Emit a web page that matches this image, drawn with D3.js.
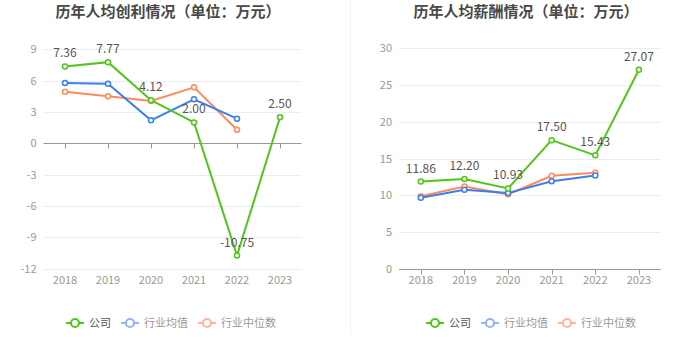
<!DOCTYPE html>
<html>
<head>
<meta charset="utf-8">
<script src="https://cdn.jsdelivr.net/npm/d3@7"></script>
<style>
  body { margin: 0; background: #fff; }
  svg { display: block; font-family: "Noto Sans CJK SC", "Noto Sans", sans-serif; }
</style>
</head>
<body>
<svg id="chart" width="700" height="359"></svg>
<script>
// years on both charts
var years = ["2018", "2019", "2020", "2021", "2022", "2023"];
var seriesNames = ["公司", "行业均值", "行业中位数"];

// 历年人均创利
var profitCompany = [7.36, 7.77, 4.12, 2.00, -10.75, 2.50];
var profitAvg = [5.78, 5.71, 2.2, 4.21, 2.36, null];
var profitMedian = [4.94, 4.5, 4.05, 5.36, 1.3, null];
var profitTicks = [9, 6, 3, 0, -3, -6, -9, -12];

// 历年人均薪酬
var salaryCompany = [11.86, 12.20, 10.93, 17.50, 15.43, 27.07];
var salaryAvg = [9.66, 10.75, 10.3, 11.89, 12.7, null];
var salaryMedian = [9.85, 11.2, 10.12, 12.65, 13.06, null];
var salaryTicks = [30, 25, 20, 15, 10, 5, 0];

var colors = ["#52c41a", "#3e7cf0", "#ff8a5e"];
var legendColors = ["#52c41a", "#91b3f7", "#fdb49b"];
var legendText = ["#555", "#999", "#999"];

var svg = d3.select("#chart");

// divider between the two panels
svg.append("line")
    .attr("x1", 350.5).attr("x2", 350.5)
    .attr("y1", 0).attr("y2", 334)
    .attr("stroke", "#f0f0f0");

function draw(cfg) {
    var g = svg.append("g");
    var x = d3.scalePoint().domain(years).range(cfg.xr).padding(0.5);
    var y = d3.scaleLinear().domain(cfg.dom).range(cfg.yr);

    g.append("text")
        .attr("x", cfg.titleX).attr("y", 17)
        .attr("text-anchor", "middle")
        .attr("font-size", 15).attr("font-weight", "bold")
        .attr("fill", "#484848")
        .text(cfg.title);

    // grid
    g.selectAll(".grid").data(cfg.ticks.filter(function (t) { return t !== 0; }))
        .enter().append("line")
        .attr("x1", cfg.xr[0]).attr("x2", cfg.xr[1])
        .attr("y1", function (d) { return Math.round(y(d)) + 0.5; })
        .attr("y2", function (d) { return Math.round(y(d)) + 0.5; })
        .attr("stroke", "#e9eef6");

    // y labels
    g.selectAll(".ylab").data(cfg.ticks)
        .enter().append("text")
        .attr("x", cfg.xr[0] - 7)
        .attr("y", function (d) { return y(d) + 4; })
        .attr("text-anchor", "end")
        .attr("font-size", 11).attr("fill", "#999")
        .text(function (d) { return d; });

    // x axis on zero line
    var y0 = Math.round(y(0)) + 0.5;
    g.append("line")
        .attr("x1", cfg.xr[0]).attr("x2", cfg.xr[1])
        .attr("y1", y0).attr("y2", y0)
        .attr("stroke", "#999");
    g.selectAll(".tick").data(years).enter().append("line")
        .attr("x1", function (d) { return Math.round(x(d)) + 0.5; })
        .attr("x2", function (d) { return Math.round(x(d)) + 0.5; })
        .attr("y1", y0).attr("y2", y0 + 5)
        .attr("stroke", "#999");
    g.selectAll(".xlab").data(years).enter().append("text")
        .attr("x", function (d) { return x(d); })
        .attr("y", cfg.yr[0] + 15)
        .attr("text-anchor", "middle")
        .attr("font-size", 11).attr("fill", "#999")
        .text(function (d) { return d; });

    var line = d3.line()
        .defined(function (d) { return d != null; })
        .x(function (d, i) { return x(years[i]); })
        .y(function (d) { return y(d); });

    // draw median, avg, then company on top
    [2, 1, 0].forEach(function (k) {
        var vals = cfg.series[k];
        g.append("path").datum(vals)
            .attr("d", line)
            .attr("fill", "none")
            .attr("stroke", colors[k])
            .attr("stroke-width", 2);
        g.selectAll(".pt" + k).data(vals.map(function (v, i) { return {v: v, i: i}; })
                .filter(function (d) { return d.v != null; }))
            .enter().append("circle")
            .attr("cx", function (d) { return x(years[d.i]); })
            .attr("cy", function (d) { return y(d.v); })
            .attr("r", 2.5)
            .attr("fill", "#fff")
            .attr("stroke", colors[k])
            .attr("stroke-width", 1.5);
    });

    g.selectAll(".lab").data(cfg.series[0]).enter().append("text")
        .attr("x", function (d, i) { return x(years[i]); })
        .attr("y", function (d) { return y(d) - 9; })
        .attr("text-anchor", "middle")
        .attr("font-size", 12).attr("fill", "#555")
        .text(function (d) { return d.toFixed(2); });

    // legend
    var lg = g.append("g");
    var pos = 0;
    seriesNames.forEach(function (name, k) {
        var it = lg.append("g").attr("transform", "translate(" + pos + ",0)");
        it.append("line").attr("x1", 0).attr("x2", 18).attr("y1", 0).attr("y2", 0)
            .attr("stroke", legendColors[k]).attr("stroke-width", 2);
        it.append("circle").attr("cx", 9).attr("cy", 0).attr("r", 4)
            .attr("fill", "#fff").attr("stroke", legendColors[k]).attr("stroke-width", 2);
        var t = it.append("text").attr("x", 23).attr("y", 4)
            .attr("font-size", 11).attr("fill", legendText[k]).text(name);
        pos += 23 + t.node().getComputedTextLength() + 10;
    });
    pos -= 10;
    lg.attr("transform", "translate(" + (cfg.legendX - pos / 2) + ",323)");
}

draw({
    title: "历年人均创利情况（单位：万元）",
    titleX: 168,
    legendX: 171,
    xr: [43.5, 301.5],
    dom: [-12, 9],
    yr: [268.6, 49.3],
    ticks: profitTicks,
    series: [profitCompany, profitAvg, profitMedian]
});

draw({
    title: "历年人均薪酬情况（单位：万元）",
    titleX: 526,
    legendX: 531,
    xr: [399, 660.7],
    dom: [0, 30],
    yr: [268.7, 48.3],
    ticks: salaryTicks,
    series: [salaryCompany, salaryAvg, salaryMedian]
});
</script>
</body>
</html>
